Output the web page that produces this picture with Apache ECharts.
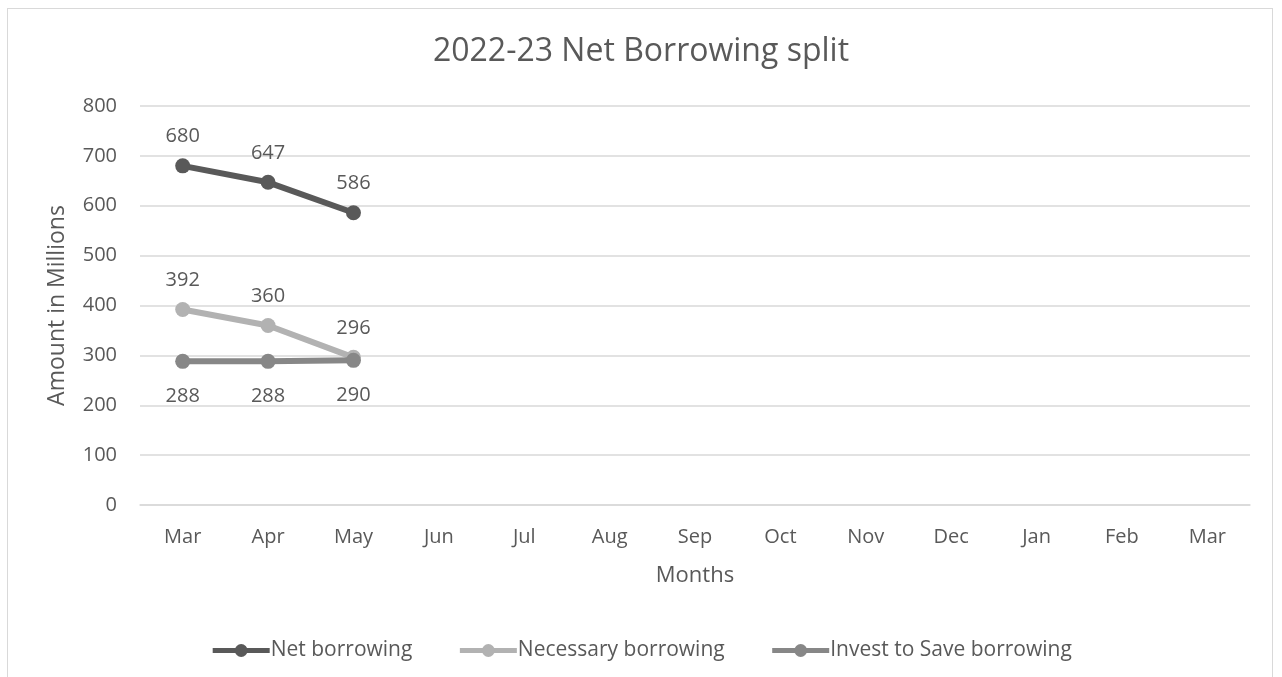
<!DOCTYPE html>
<html>
<head>
<meta charset="utf-8">
<script src="https://cdn.jsdelivr.net/npm/echarts@6/dist/echarts.min.js"></script>
<style>
  html, body { margin: 0; padding: 0; background: #ffffff; }
  #frame { position: absolute; left: 7px; top: 8px; width: 1266px; height: 680px; border: 1px solid #d9d9d9; box-sizing: border-box; }
  #chart { position: absolute; left: 0; top: 0; width: 1282px; height: 677px; }
</style>
</head>
<body>
<div id="frame"></div>
<div id="chart"></div>
<script>
// Months of the 2022-23 financial year
const months = ['Mar', 'Apr', 'May', 'Jun', 'Jul', 'Aug', 'Sep', 'Oct', 'Nov', 'Dec', 'Jan', 'Feb', 'Mar'];
// Borrowing, in millions (only the first three months reported so far)
const netBorrowing = [680, 647, 586];
const necessaryBorrowing = [392, 360, 296];
const investToSaveBorrowing = [288, 288, 290];
const yTicks = { min: 0, max: 800, interval: 100 };

const FONT = 'Open Sans';
const TEXT = '#595959';

function lineSeries(name, data, color, labelPos, labelDist, z) {
  return {
    name: name,
    type: 'line',
    data: data,
    z: z,
    symbol: 'circle',
    symbolSize: 15,
    lineStyle: { color: color, width: 6 },
    itemStyle: { color: color },
    label: {
      show: true,
      position: labelPos,
      distance: labelDist,
      color: TEXT,
      fontFamily: FONT,
      fontSize: 20
    },
    emphasis: { disabled: true },
    animation: false
  };
}

const chart = echarts.init(document.getElementById('chart'), null, { renderer: 'canvas' });
chart.setOption({
  backgroundColor: 'transparent',
  title: {
    text: '2022-23 Net Borrowing split',
    left: 'center',
    top: 31,
    textStyle: { color: TEXT, fontFamily: FONT, fontSize: 32, fontWeight: 'normal' }
  },
  legend: {
    bottom: 11,
    left: 'center',
    itemGap: 45,
    itemWidth: 57,
    itemHeight: 16,
    lineStyle: { width: 5 },
    textStyle: { color: TEXT, fontFamily: FONT, fontSize: 21, padding: [0, 0, 0, -4] },
    data: ['Net borrowing', 'Necessary borrowing', 'Invest to Save borrowing']
  },
  grid: { left: 140, right: 32, top: 106, bottom: 172, containLabel: false },
  xAxis: {
    type: 'category',
    data: months,
    boundaryGap: true,
    name: 'Months',
    nameLocation: 'middle',
    nameGap: 60,
    nameTextStyle: { color: TEXT, fontFamily: FONT, fontSize: 22 },
    axisLine: { show: true, lineStyle: { color: '#d9d9d9', width: 1.5 } },
    axisTick: { show: false },
    axisLabel: { color: TEXT, fontFamily: FONT, fontSize: 20, margin: 22 }
  },
  yAxis: {
    type: 'value',
    min: yTicks.min,
    max: yTicks.max,
    interval: yTicks.interval,
    name: 'Amount in Millions',
    nameLocation: 'middle',
    nameGap: 71,
    nameTextStyle: { color: TEXT, fontFamily: FONT, fontSize: 23 },
    axisLine: { show: false },
    axisTick: { show: false },
    axisLabel: { color: TEXT, fontFamily: FONT, fontSize: 20, margin: 23 },
    splitLine: { lineStyle: { color: '#d9d9d9', width: 1.5 } }
  },
  series: [
    lineSeries('Net borrowing', netBorrowing, '#595959', 'top', 12, 4),
    lineSeries('Necessary borrowing', necessaryBorrowing, '#b2b2b2', 'top', 12, 2),
    lineSeries('Invest to Save borrowing', investToSaveBorrowing, '#878787', 'bottom', 17, 3)
  ]
});
</script>
</body>
</html>
